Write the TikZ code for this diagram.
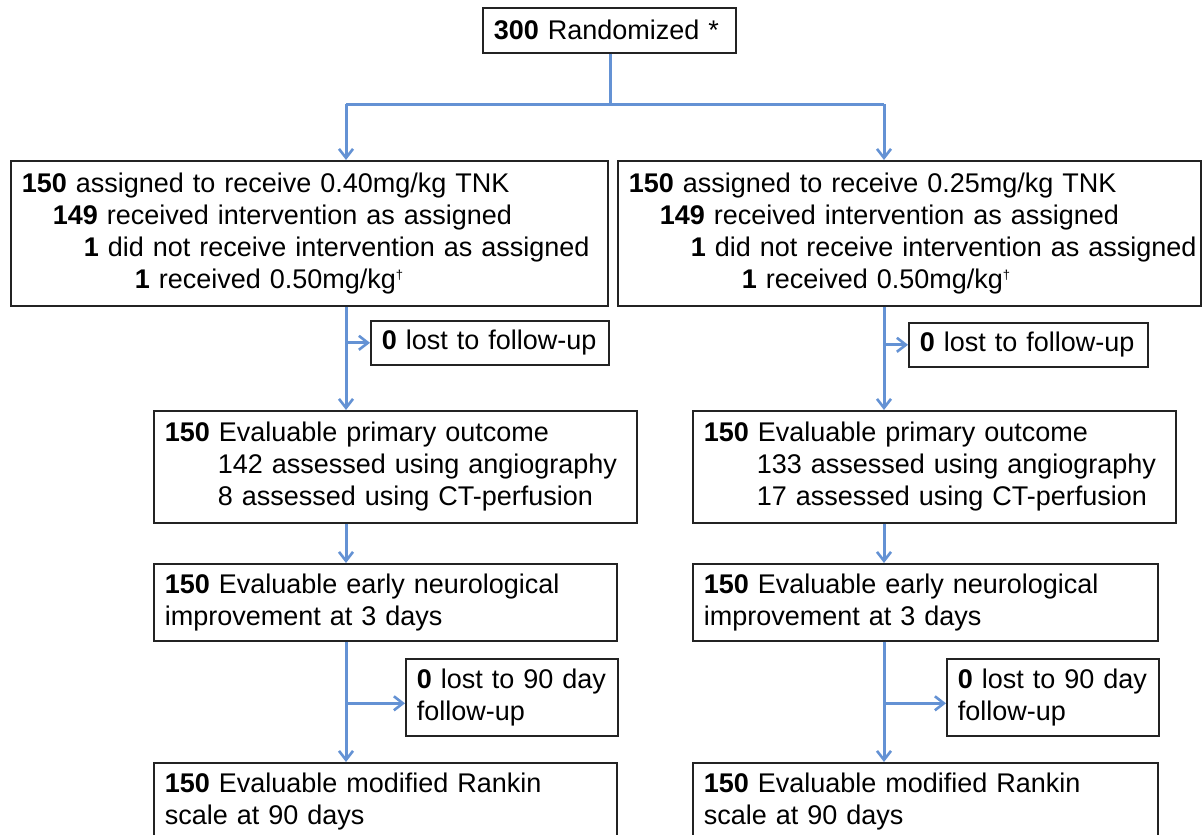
\documentclass[tikz,border=0pt]{standalone}
\usepackage{fontspec}
\setmainfont{Liberation Sans}
\usetikzlibrary{arrows.meta,calc}
\definecolor{lnblue}{RGB}{100,146,212}
\definecolor{bd}{RGB}{35,35,35}
\begin{document}
\begin{tikzpicture}[x=1pt,y=-1pt,
  box/.style={draw=bd,line width=1.6pt,anchor=north west,align=left,inner xsep=11pt,inner ysep=0pt,
    font=\fontsize{27}{32}\selectfont},
  conn/.style={draw=lnblue,line width=3pt},
  arr/.style={conn,-{Straight Barb[length=9pt,width=14pt,line width=2.6pt]}}]
\useasboundingbox (0,0) rectangle (1203,835);
\clip (0,0) rectangle (1203,835);
\fill[white] (0,0) rectangle (1203,835);
% boxes
\node[box,text width=231pt,minimum height=45pt] (top) at (482,7) {\textbf{300} Randomized *};
\node[box,text width=575pt,minimum height=145pt] (L) at (10,160) {\mbox{\textbf{150} assigned to receive 0.40mg/kg TNK}\\
\mbox{\hspace*{31pt}\textbf{149} received intervention as assigned}\\
\mbox{\hspace*{62pt}\textbf{1} did not receive intervention as assigned}\\
\mbox{\hspace*{113pt}\textbf{1} received 0.50mg/kg\textsuperscript{\fontsize{13}{13}\selectfont †}}};
\node[box,text width=561pt,minimum height=145pt] (R) at (617,160) {\mbox{\textbf{150} assigned to receive 0.25mg/kg TNK}\\
\mbox{\hspace*{31pt}\textbf{149} received intervention as assigned}\\
\mbox{\hspace*{62pt}\textbf{1} did not receive intervention as assigned}\\
\mbox{\hspace*{113pt}\textbf{1} received 0.50mg/kg\textsuperscript{\fontsize{13}{13}\selectfont †}}};
\node[box,text width=216pt,minimum height=44pt] (lossL) at (370,320) {\textbf{0} lost to follow-up};
\node[box,text width=217pt,minimum height=44pt] (lossR) at (908,322) {\textbf{0} lost to follow-up};
\node[box,text width=461pt,minimum height=112pt] (PL) at (153,410) {\textbf{150} Evaluable primary outcome\\
\hspace*{53pt}142 assessed using angiography\\
\hspace*{53pt}8 assessed using CT-perfusion};
\node[box,text width=461pt,minimum height=112pt] (PR) at (692,410) {\textbf{150} Evaluable primary outcome\\
\hspace*{53pt}133 assessed using angiography\\
\hspace*{53pt}17 assessed using CT-perfusion};
\node[box,text width=441pt,minimum height=77pt] (EL) at (153,563) {\textbf{150} Evaluable early neurological\\improvement at 3 days};
\node[box,text width=443pt,minimum height=77pt] (ER) at (692,563) {\textbf{150} Evaluable early neurological\\improvement at 3 days};
\node[box,text width=190pt,minimum height=77pt] (NL) at (405,658) {\mbox{\textbf{0} lost to 90 day}\\follow-up};
\node[box,text width=190pt,minimum height=77pt] (NR) at (946,658) {\mbox{\textbf{0} lost to 90 day}\\follow-up};
\node[box,text width=441pt,minimum height=77pt] (KL) at (153,762) {\textbf{150} Evaluable modified Rankin\\scale at 90 days};
\node[box,text width=443pt,minimum height=77pt] (KR) at (692,762) {\textbf{150} Evaluable modified Rankin\\scale at 90 days};
% junctions
\coordinate (j) at (610,104);
\coordinate (jL) at (346,104);
\coordinate (jR) at (884,104);
\draw[conn] (top.south -| j) -- (j);
\draw[conn] (jL) -- (jR);
\draw[arr] (jL) -- (L.north -| jL);
\draw[arr] (jR) -- (R.north -| jR);
% left column
\draw[arr] (L.south -| jL) -- (PL.north -| jL);
\draw[arr] (jL |- lossL.west) -- (lossL.west);
\draw[arr] (PL.south -| jL) -- (EL.north -| jL);
\draw[arr] (EL.south -| jL) -- (KL.north -| jL);
\draw[arr] ($(jL |- NL.west)+(0,6)$) -- ($(NL.west)+(0,6)$);
% right column
\draw[arr] (R.south -| jR) -- (PR.north -| jR);
\draw[arr] (jR |- lossR.west) -- (lossR.west);
\draw[arr] (PR.south -| jR) -- (ER.north -| jR);
\draw[arr] (ER.south -| jR) -- (KR.north -| jR);
\draw[arr] ($(jR |- NR.west)+(0,6)$) -- ($(NR.west)+(0,6)$);
\end{tikzpicture}
\end{document}
